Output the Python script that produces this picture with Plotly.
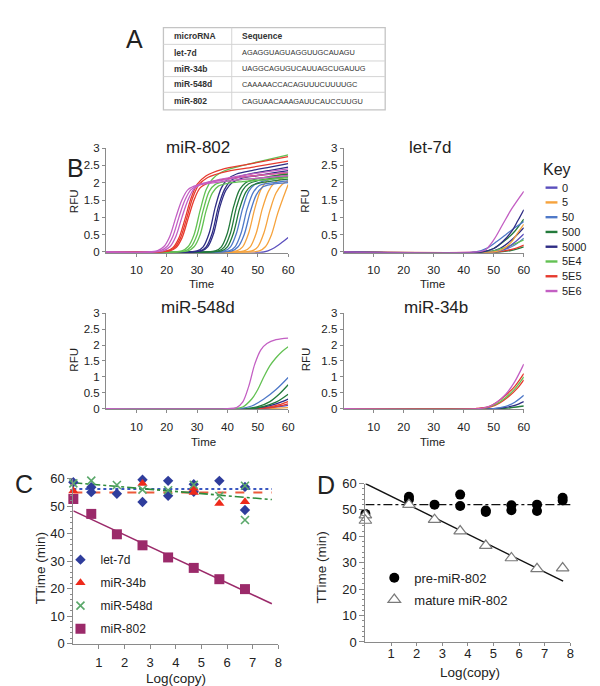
import plotly.graph_objects as go

W, H = 600, 686
def px(x): return x / W
def py(y): return 1 - y / H

FONT = "Liberation Sans, Arial, sans-serif"
AX = "#8a8a8a"
TXT = "#222222"

# ---------------- Panel A: table ----------------
TABLE_HEADER = ["microRNA", "Sequence"]
MIRNA_NAMES = ["let-7d", "miR-34b", "miR-548d", "miR-802"]
MIRNA_SEQS = ["AGAGGUAGUAGGUUGCAUAGU", "UAGGCAGUGUCAUUAGCUGAUUG",
              "CAAAAACCACAGUUUCUUUUGC", "CAGUAACAAAGAUUCAUCCUUGU"]

# ---------------- Panel B: amplification curves ----------------
KEY_LABELS = ["0", "5", "50", "500", "5000", "5E4", "5E5", "5E6"]
KEY_COLORS = ["#5b4fbd", "#f6a33d", "#4f79c8", "#237a3b", "#2e2c84", "#63c153", "#e63a2e", "#c35fc3"]
B_TITLES = ["miR-802", "let-7d", "miR-548d", "miR-34b"]
B_XTICKS = [10, 20, 30, 40, 50, 60]
B_YTICKS = [0, 0.5, 1, 1.5, 2, 2.5, 3]
B_YTICKTEXT = ["0", "0.5", "1", "1.5", "2", "2.5", "3"]

MIR802_CURVES = [
    ("5E6", [0,14,17,19,21,23,25,27,30,36,46,60], [0,0,0.04,0.15,0.45,1.0,1.5,1.8,1.93,2.0,2.1,2.2]),
    ("5E6", [0,15,18,20,22,24,26,28,31,37,47,60], [0,0,0.04,0.15,0.45,1.0,1.5,1.8,1.95,2.05,2.18,2.3]),
    ("5E6", [0,16,19,21,23,25,27,29,32,38,48,60], [0,0,0.04,0.15,0.45,1.0,1.5,1.82,1.98,2.1,2.25,2.4]),
    ("5E5", [0,17,20,22,24,26,28,30,33,38,48,60], [0,0,0.03,0.12,0.4,0.95,1.55,1.95,2.2,2.38,2.55,2.75]),
    ("5E5", [0,17.5,20.5,22.5,24.5,26.5,28.5,30.5,33.5,38.5,48.5,60], [0,0,0.03,0.12,0.4,0.95,1.55,1.93,2.15,2.3,2.45,2.62]),
    ("5E5", [0,18,21,23,25,27,29,31,34,39,49,60], [0,0,0.03,0.12,0.4,0.95,1.5,1.85,2.0,2.1,2.2,2.3]),
    ("5E4", [0,22,25,27,29,31,33,35,38,43,50,60], [0,0,0.03,0.15,0.5,1.2,1.8,2.1,2.3,2.45,2.6,2.8]),
    ("5E4", [0,23,26,28,30,32,34,36,39,44,51,60], [0,0,0.03,0.15,0.5,1.2,1.75,1.95,2.03,2.08,2.13,2.2]),
    ("5E4", [0,24,27,29,31,33,35,37,40,45,52,60], [0,0,0.03,0.15,0.5,1.2,1.7,1.9,1.98,2.03,2.08,2.15]),
    ("5000", [0,27,30,32,34,36,38,40,43,48,54,60], [0,0,0.03,0.15,0.55,1.3,1.85,2.1,2.25,2.35,2.45,2.55]),
    ("5000", [0,28,31,33,35,37,39,41,44,49,55,60], [0,0,0.03,0.15,0.55,1.3,1.8,2.05,2.18,2.28,2.37,2.45]),
    ("5000", [0,28.5,31.5,33.5,35.5,37.5,39.5,41.5,44.5,49.5,55,60], [0,0,0.03,0.15,0.55,1.3,1.78,2.0,2.12,2.2,2.28,2.35]),
    ("500", [0,33,36,38,40,42,44,46,49,54,60], [0,0,0.03,0.15,0.55,1.3,1.8,2.0,2.1,2.18,2.25]),
    ("500", [0,34,37,39,41,43,45,47,50,55,60], [0,0,0.03,0.15,0.55,1.3,1.78,1.97,2.06,2.13,2.2]),
    ("500", [0,35,38,40,42,44,46,48,51,55,60], [0,0,0.03,0.15,0.55,1.25,1.72,1.92,2.0,2.05,2.1]),
    ("50", [0,36,39,41,43,45,47,49,52,56,60], [0,0,0.03,0.15,0.55,1.25,1.75,1.95,2.05,2.12,2.2]),
    ("50", [0,37.5,40.5,42.5,44.5,46.5,48.5,50.5,53.5,57,60], [0,0,0.03,0.15,0.55,1.25,1.72,1.92,1.98,2.02,2.05]),
    ("50", [0,38.5,41.5,43.5,45.5,47.5,49.5,51.5,54.5,60], [0,0,0.03,0.15,0.5,1.15,1.65,1.87,1.95,2.0]),
    ("5", [0,40,43,45,47,49,51,53,56,60], [0,0,0.03,0.15,0.55,1.25,1.8,2.05,2.2,2.3]),
    ("5", [0,42.5,45.5,47.5,49.5,51.5,53.5,55.5,58,60], [0,0,0.03,0.15,0.55,1.25,1.75,2.0,2.12,2.2]),
    ("5", [0,45,48,50,52,54,56,58,60], [0,0,0.03,0.15,0.55,1.2,1.7,1.95,2.05]),
    ("5", [0,47.5,50.5,52.5,54.5,56.5,58.5,60], [0,0,0.03,0.15,0.5,1.1,1.6,1.95]),
    ("0", [0,52,55,58,60], [0,0,0.1,0.28,0.42]),
]
LET7D_CURVES = [
    ("5E6", [0,44,47,50,53,56,60], [0,0,0.05,0.35,0.8,1.25,1.75]),
    ("5000", [0,46,50,53,56,58,60], [0,0,0.1,0.3,0.6,0.9,1.22]),
    ("50", [0,44,48,51,54,57,60], [0,0,0.12,0.3,0.5,0.7,0.88]),
    ("500", [0,46,50,54,57,60], [0,0,0.1,0.35,0.6,0.95]),
    ("5", [0,50,53,56,58,60], [0,0,0.08,0.3,0.55,0.8]),
    ("0", [0,50,54,57,60], [0,0,0.1,0.28,0.52]),
    ("5E4", [0,48,52,56,60], [0,0,0.08,0.2,0.35]),
    ("50", [0,50,54,57,60], [0,0,0.08,0.2,0.4]),
    ("5E5", [0,50,54,57,60], [0,0,0.04,0.1,0.2]),
    ("5000", [0,48,52,56,60], [0,0,0.1,0.35,0.7]),
    ("500", [0,52,56,60], [0,0,0.05,0.15]),
]
MIR548D_CURVES = [
    ("5E6", [0,40,43,45,47,49,51,53,56,60], [0,0,0.03,0.2,0.7,1.4,1.85,2.05,2.17,2.22]),
    ("5E4", [0,42,45,48,50,52,54,56,58,60], [0,0,0.05,0.3,0.6,1.0,1.35,1.6,1.8,1.95]),
    ("50", [0,44,48,52,56,60], [0,0,0.08,0.3,0.6,0.98]),
    ("500", [0,46,50,54,57,60], [0,0,0.06,0.22,0.45,0.75]),
    ("500", [0,48,52,56,60], [0,0,0.07,0.2,0.45]),
    ("5000", [0,48,52,56,60], [0,0,0.05,0.15,0.3]),
    ("5E5", [0,50,54,57,60], [0,0,0.05,0.12,0.22]),
    ("5E5", [0,50,54,57,60], [0,0,0.03,0.08,0.15]),
    ("0", [0,50,55,60], [0,0,0.04,0.1]),
    ("5", [0,50,55,60], [0,0,0.01,0.03]),
]
MIR34B_CURVES = [
    ("5E6", [0,45,48,51,54,57,60], [0,0,0.05,0.2,0.45,0.85,1.4]),
    ("5E5", [0,44,48,51,54,57,60], [0,0,0.05,0.2,0.42,0.7,1.1]),
    ("5E4", [0,45,48,51,54,57,60], [0,0,0.04,0.15,0.35,0.62,1.0]),
    ("5E5", [0,45,49,52,55,58,60], [0,0,0.05,0.18,0.38,0.65,0.9]),
    ("50", [0,50,54,57,60], [0,0,0.07,0.2,0.42]),
    ("5000", [0,50,54,57,60], [0,0,0.04,0.1,0.22]),
    ("500", [0,52,56,60], [0,0,0.03,0.08]),
]

# ---------------- Panel C ----------------
C_XTICKS = [1, 2, 3, 4, 5, 6, 7, 8]
LET7D_X = [0, 0.7, 0.7, 1.7, 2.7, 2.7, 3.7, 3.7, 4.7, 4.7, 5.7, 6.7, 6.7]
LET7D_Y = [58.7, 56.9, 55.1, 54.5, 59.6, 51.5, 59.2, 53.8, 58.0, 55.2, 59.2, 57.0, 48.6]
MIR34B_X = [0, 2.7, 4.7, 4.7, 5.7, 6.7]
MIR34B_Y = [55.5, 58.2, 56.5, 55.0, 51.0, 51.6]
MIR548D_X = [0, 0.7, 1.7, 2.7, 3.7, 4.7, 5.7, 6.7, 6.7]
MIR548D_Y = [58.3, 59.3, 57.7, 56.0, 55.8, 57.8, 53.7, 57.4, 45.0]
MIR802_X = [0, 0.7, 1.7, 2.7, 3.7, 4.7, 5.7, 6.7]
MIR802_Y = [52.6, 47.2, 39.8, 35.8, 31.4, 27.6, 23.5, 19.9]
C_TREND_X = [0, 7.75]
LET7D_TREND = [56.2, 56.2]
MIR34B_TREND = [55.0, 55.0]
MIR548D_TREND = [58.5, 52.4]
MIR802_TREND = [48.3, 14.6]

# ---------------- Panel D ----------------
PRE_X = [0, 1.7, 1.7, 2.7, 3.7, 3.7, 4.7, 4.7, 5.7, 5.7, 6.7, 6.7, 7.7, 7.7]
PRE_Y = [48.5, 55.0, 54.0, 52.0, 55.8, 51.5, 49.8, 49.2, 51.8, 49.9, 52.0, 49.6, 54.6, 53.6]
MATURE_X = [0, 0, 1.7, 2.7, 3.7, 4.7, 5.7, 6.7, 7.7]
MATURE_Y = [48.0, 46.0, 52.0, 46.3, 42.0, 36.5, 31.8, 27.7, 28.0]
PRE_TREND_X = [0, 8.1]
PRE_TREND_Y = [52.0, 52.0]
MATURE_TREND_X = [0, 7.72]
MATURE_TREND_Y = [60.0, 23.0]

fig = go.Figure()
annotations = []
shapes = []

def ann(text, x, y, size, angle=0, xanchor="center", color=TXT):
    annotations.append(dict(text=text, x=px(x), y=py(y), xref="paper", yref="paper",
                            showarrow=False, textangle=angle, xanchor=xanchor, yanchor="middle",
                            font=dict(size=size, color=color, family=FONT)))

def seg(x0, y0, x1, y1, color, width=1):
    shapes.append(dict(type="line", xref="paper", yref="paper",
                       x0=px(x0), y0=py(y0), x1=px(x1), y1=py(y1),
                       line=dict(color=color, width=width)))

# ---- Panel A table (drawn with lines and text) ----
TBL_L, TBL_R, TBL_COL = 157, 381, 226
TBL_ROWS = [13, 30, 47, 63, 79, 97]
shapes.append(dict(type="rect", xref="paper", yref="paper", x0=px(TBL_L), x1=px(TBL_R),
                   y0=py(TBL_ROWS[-1]), y1=py(TBL_ROWS[0]), line=dict(color="#c4c4c4", width=1.3)))
for r in TBL_ROWS[1:-1]:
    seg(TBL_L, r, TBL_R, r, "#d4d4d4", 1)
seg(TBL_COL, TBL_ROWS[0], TBL_COL, TBL_ROWS[-1], "#d4d4d4", 1)
rows_text = [(TABLE_HEADER[0], TABLE_HEADER[1])] + list(zip(MIRNA_NAMES, MIRNA_SEQS))
for i, (name, seq) in enumerate(rows_text):
    yc = (TBL_ROWS[i] + TBL_ROWS[i + 1]) / 2
    ann("<b>%s</b>" % name, 166, yc, 8.5, xanchor="left", color="#333")
    if i == 0:
        ann("<b>%s</b>" % seq, 234, yc, 8.5, xanchor="left", color="#333")
    else:
        ann(seq, 234, yc, 7.4, xanchor="left", color="#333")

# ---- Panel B curves ----
key_color = dict(zip(KEY_LABELS, KEY_COLORS))
for idx, curves in enumerate([MIR802_CURVES, LET7D_CURVES, MIR548D_CURVES, MIR34B_CURVES]):
    ax = "" if idx == 0 else str(idx + 1)
    for key, t, y in reversed(curves):
        fig.add_trace(go.Scatter(
            x=t, y=y, mode="lines", xaxis="x" + ax, yaxis="y" + ax,
            line=dict(color=key_color[key], width=1.3, shape="spline", smoothing=0.9),
            name=key, showlegend=False, hoverinfo="skip"))

# Key (concentration colours)
ann("Key", 555, 158, 16)
for i, (lab, col) in enumerate(zip(KEY_LABELS, KEY_COLORS)):
    yk = 176.5 + 15.1 * i
    seg(543, yk, 555, yk, col, 2.4)
    ann(lab, 558, yk, 11, xanchor="left")

# ---- Panel C ----
c_series = [
    ("let-7d", LET7D_X, LET7D_Y, dict(symbol="diamond", size=8, color="#2f3d9c")),
    ("miR-34b", MIR34B_X, MIR34B_Y, dict(symbol="triangle-up", size=9, color="#ee2a1b")),
    ("miR-548d", MIR548D_X, MIR548D_Y, dict(symbol="x-thin-open", size=8, color="#5aa86a",
                                             line=dict(width=1.6, color="#5aa86a"))),
    ("miR-802", MIR802_X, MIR802_Y, dict(symbol="square", size=10, color="#9b2a6a")),
]
c_trends = [
    (LET7D_TREND, dict(color="#3a57c0", width=2, dash="dot")),
    (MIR34B_TREND, dict(color="#ec5a3a", width=2, dash="dash")),
    (MIR548D_TREND, dict(color="#2e8b3a", width=1.6, dash="dashdot")),
    (MIR802_TREND, dict(color="#9b2a6a", width=1.6)),
]
for ty, ln in c_trends:
    fig.add_trace(go.Scatter(x=C_TREND_X, y=ty, mode="lines", line=ln, xaxis="x5", yaxis="y5",
                             showlegend=False, hoverinfo="skip"))
for name, xs, ys, mk in c_series:
    fig.add_trace(go.Scatter(x=xs, y=ys, mode="markers", marker=mk, name=name,
                             xaxis="x5", yaxis="y5", legend="legend", legendgroup=name,
                             cliponaxis=False))

# ---- Panel D ----
fig.add_trace(go.Scatter(x=PRE_TREND_X, y=PRE_TREND_Y, mode="lines",
                         line=dict(color="#111", width=1.4, dash="dashdot"),
                         xaxis="x6", yaxis="y6", showlegend=False, hoverinfo="skip"))
fig.add_trace(go.Scatter(x=MATURE_TREND_X, y=MATURE_TREND_Y, mode="lines",
                         line=dict(color="#111", width=1.4),
                         xaxis="x6", yaxis="y6", showlegend=False, hoverinfo="skip"))
fig.add_trace(go.Scatter(x=PRE_X, y=PRE_Y, mode="markers", name="pre-miR-802",
                         marker=dict(symbol="circle", size=10, color="#000"),
                         xaxis="x6", yaxis="y6", legend="legend2", legendgroup="pre",
                         cliponaxis=False))
fig.add_trace(go.Scatter(x=MATURE_X, y=MATURE_Y, mode="markers", name="mature miR-802",
                         marker=dict(symbol="triangle-up", size=11, color="white",
                                     line=dict(color="#7a7a7a", width=1.2)),
                         xaxis="x6", yaxis="y6", legend="legend2", legendgroup="mature",
                         cliponaxis=False))

def bx(x0, x1, anchor):
    return dict(domain=[px(x0), px(x1)], range=[0, 60], tickvals=B_XTICKS, anchor=anchor,
                showline=True, linecolor=AX, linewidth=1, ticks="outside", ticklen=3,
                tickcolor=AX, showgrid=False, zeroline=False, ticklabelstandoff=4,
                tickfont=dict(size=11.5, color=TXT, family=FONT))

def by(y0, y1, anchor):
    return dict(domain=[py(y0), py(y1)], range=[-0.02, 3], tickvals=B_YTICKS,
                ticktext=B_YTICKTEXT, anchor=anchor,
                showline=True, linecolor=AX, linewidth=1, ticks="outside", ticklen=3,
                tickcolor=AX, showgrid=False, zeroline=False,
                tickfont=dict(size=11.5, color=TXT, family=FONT))

def cx(x0, x1, anchor, ticklen, standoff):
    return dict(domain=[px(x0), px(x1)], range=[0, 8], tickvals=C_XTICKS, anchor=anchor,
                showline=True, linecolor=AX, linewidth=1, ticks="outside", ticklen=ticklen,
                tickcolor=AX, showgrid=False, zeroline=False, ticklabelstandoff=standoff,
                tickfont=dict(size=13, color=TXT, family=FONT))

def cy(y0, y1, anchor):
    return dict(domain=[py(y0), py(y1)], range=[0, 60], dtick=10, anchor=anchor,
                showline=True, linecolor=AX, linewidth=1, ticks="outside", ticklen=5,
                tickcolor=AX, showgrid=False, zeroline=False,
                minor=dict(ticks="outside", dtick=2, ticklen=2.5, tickcolor=AX),
                tickfont=dict(size=13, color=TXT, family=FONT))

ann("A", 128, 25, 25)
ann("B", 68, 156, 25)
ann("C", 16, 479, 25)
ann("D", 321, 480, 25)
for t, (x, y) in zip(B_TITLES, [(192, 135), (427, 135), (192, 299), (432, 299)]):
    ann(t, x, y, 17)
for x, y in [(67, 190), (300, 190), (67, 352), (301, 352)]:
    ann("RFU", x, y, 11.5, angle=-90)
for x, y in [(195, 275), (429, 275), (197, 437), (429, 437)]:
    ann("Time", x, y, 11.5)
ann("TTime (min)", 33, 566, 13.5, angle=-90)
ann("TTime (min)", 317, 565, 13.5, angle=-90)
ann("Log(copy)", 170, 678, 13.5)
ann("Log(copy)", 467, 672, 13.5)

fig.update_layout(
    width=W, height=H, margin=dict(l=0, r=0, t=0, b=0),
    paper_bgcolor="white", plot_bgcolor="white",
    font=dict(family=FONT, color=TXT),
    xaxis=bx(99, 283, "y"), yaxis=by(243, 136, "x"),
    xaxis2=bx(339, 521, "y2"), yaxis2=by(243, 136, "x2"),
    xaxis3=bx(99, 283, "y3"), yaxis3=by(403, 305, "x3"),
    xaxis4=bx(339, 521, "y4"), yaxis4=by(403, 305, "x4"),
    xaxis5=cx(66, 273, "y5", 4, 2), yaxis5=cy(643, 474, "x5"),
    xaxis6=cx(361, 568, "y6", 3, -4), yaxis6=cy(641, 479, "x6"),
    legend=dict(x=px(53), y=py(542), xanchor="left", yanchor="top",
                font=dict(size=12, color=TXT, family=FONT), bgcolor="rgba(0,0,0,0)",
                tracegroupgap=4, itemwidth=30),
    legend2=dict(x=px(370), y=py(560), xanchor="left", yanchor="top",
                 font=dict(size=13, color=TXT, family=FONT), bgcolor="rgba(0,0,0,0)",
                 tracegroupgap=2, itemwidth=30),
    annotations=annotations, shapes=shapes,
    showlegend=True,
)

fig.write_html("out.html")
